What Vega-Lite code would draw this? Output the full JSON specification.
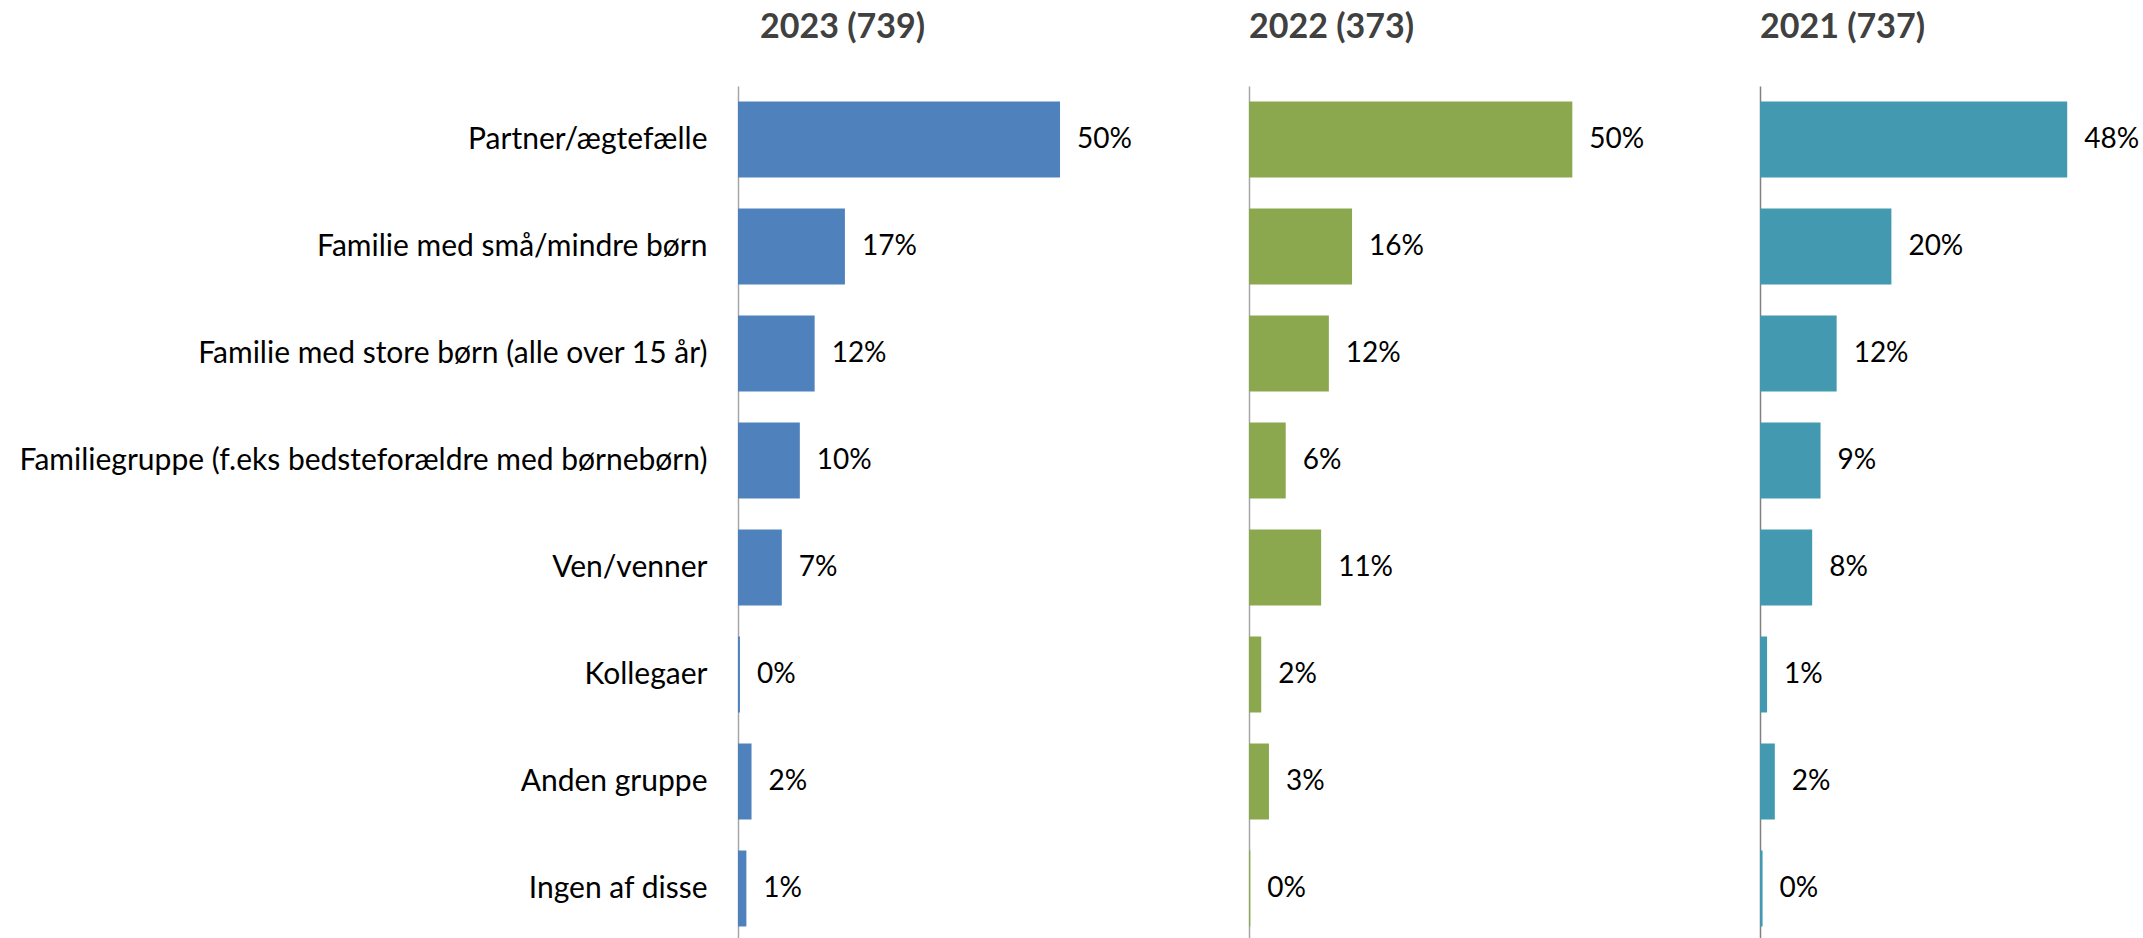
{
  "$schema": "https://vega.github.io/schema/vega-lite/v6.json",
  "background": "white",
  "padding": {"left": 5, "top": 11, "right": 0, "bottom": 0},
  "spacing": 131,
  "bounds": "flush",
  "config": {
    "view": {"stroke": null},
    "font": "Lato",
    "axis": {"labelFont": "Lato", "titleFont": "Lato"}
  },
  "data": {
    "values": [
      {"year": "2023", "cat": "Partner/ægtefælle", "v": 0.500},
      {"year": "2023", "cat": "Familie med små/mindre børn", "v": 0.166},
      {"year": "2023", "cat": "Familie med store børn (alle over 15 år)", "v": 0.119},
      {"year": "2023", "cat": "Familiegruppe (f.eks bedsteforældre med børnebørn)", "v": 0.096},
      {"year": "2023", "cat": "Ven/venner", "v": 0.068},
      {"year": "2023", "cat": "Kollegaer", "v": 0.003},
      {"year": "2023", "cat": "Anden gruppe", "v": 0.021},
      {"year": "2023", "cat": "Ingen af disse", "v": 0.013},
      {"year": "2022", "cat": "Partner/ægtefælle", "v": 0.502},
      {"year": "2022", "cat": "Familie med små/mindre børn", "v": 0.160},
      {"year": "2022", "cat": "Familie med store børn (alle over 15 år)", "v": 0.124},
      {"year": "2022", "cat": "Familiegruppe (f.eks bedsteforældre med børnebørn)", "v": 0.057},
      {"year": "2022", "cat": "Ven/venner", "v": 0.112},
      {"year": "2022", "cat": "Kollegaer", "v": 0.019},
      {"year": "2022", "cat": "Anden gruppe", "v": 0.031},
      {"year": "2022", "cat": "Ingen af disse", "v": 0.002},
      {"year": "2021", "cat": "Partner/ægtefælle", "v": 0.477},
      {"year": "2021", "cat": "Familie med små/mindre børn", "v": 0.204},
      {"year": "2021", "cat": "Familie med store børn (alle over 15 år)", "v": 0.119},
      {"year": "2021", "cat": "Familiegruppe (f.eks bedsteforældre med børnebørn)", "v": 0.094},
      {"year": "2021", "cat": "Ven/venner", "v": 0.081},
      {"year": "2021", "cat": "Kollegaer", "v": 0.011},
      {"year": "2021", "cat": "Anden gruppe", "v": 0.023},
      {"year": "2021", "cat": "Ingen af disse", "v": 0.004}
    ]
  },
  "hconcat": [
    {
      "width": 380, "height": 856,
      "title": {"text": "2023 (739)", "anchor": "start", "frame": "group", "dx": 22, "fontSize": 34, "fontWeight": "bold", "color": "#404040", "font": "Lato", "offset": 41},
      "transform": [{"filter": "datum.year == '2023'"}],
      "encoding": {
        "y": {"field": "cat", "type": "nominal", "sort": null, "title": null,
          "scale": {"paddingInner": 0.29, "paddingOuter": 0.145},
          "axis": {"ticks": false, "domainColor": "#A6A6A6", "domainWidth": 1.5, "labelFontSize": 30, "labelColor": "#000000", "labelPadding": 31, "labelLimit": 800, "minExtent": 733, "maxExtent": 733}},
        "x": {"field": "v", "type": "quantitative", "scale": {"domain": [0, 0.59]}, "axis": null}
      },
      "layer": [
        {"mark": {"type": "bar", "color": "#4F81BD"}},
        {"mark": {"type": "text", "align": "left", "dx": 17, "fontSize": 28, "color": "#000000", "font": "Lato"}, "encoding": {"text": {"field": "v", "type": "quantitative", "format": ".0%"}}}
      ]
    },
    {
      "width": 380, "height": 856,
      "title": {"text": "2022 (373)", "anchor": "start", "frame": "group", "dx": 0, "fontSize": 34, "fontWeight": "bold", "color": "#404040", "font": "Lato", "offset": 41},
      "transform": [{"filter": "datum.year == '2022'"}],
      "encoding": {
        "y": {"field": "cat", "type": "nominal", "sort": null, "title": null,
          "scale": {"paddingInner": 0.29, "paddingOuter": 0.145},
          "axis": {"ticks": false, "labels": false, "domainColor": "#A6A6A6", "domainWidth": 1.5}},
        "x": {"field": "v", "type": "quantitative", "scale": {"domain": [0, 0.59]}, "axis": null}
      },
      "layer": [
        {"mark": {"type": "bar", "color": "#8CA84F"}},
        {"mark": {"type": "text", "align": "left", "dx": 17, "fontSize": 28, "color": "#000000", "font": "Lato"}, "encoding": {"text": {"field": "v", "type": "quantitative", "format": ".0%"}}}
      ]
    },
    {
      "width": 380, "height": 856,
      "title": {"text": "2021 (737)", "anchor": "start", "frame": "group", "dx": 0, "fontSize": 34, "fontWeight": "bold", "color": "#404040", "font": "Lato", "offset": 41},
      "transform": [{"filter": "datum.year == '2021'"}],
      "encoding": {
        "y": {"field": "cat", "type": "nominal", "sort": null, "title": null,
          "scale": {"paddingInner": 0.29, "paddingOuter": 0.145},
          "axis": {"ticks": false, "labels": false, "domainColor": "#808080", "domainWidth": 1.5}},
        "x": {"field": "v", "type": "quantitative", "scale": {"domain": [0, 0.59]}, "axis": null}
      },
      "layer": [
        {"mark": {"type": "bar", "color": "#4299B0"}},
        {"mark": {"type": "text", "align": "left", "dx": 17, "fontSize": 28, "color": "#000000", "font": "Lato"}, "encoding": {"text": {"field": "v", "type": "quantitative", "format": ".0%"}}}
      ]
    }
  ]
}
